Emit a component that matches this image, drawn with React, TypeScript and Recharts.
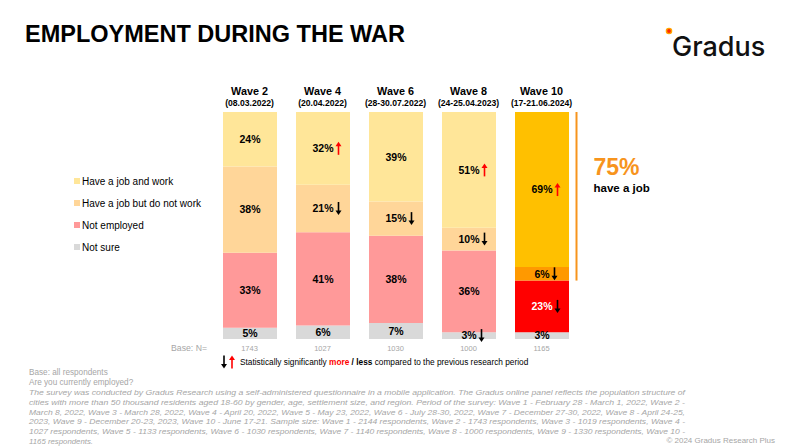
import React from "react";
import { BarChart, Bar, XAxis, YAxis, Cell, LabelList, Legend, ReferenceLine } from "recharts";

const waves = ["Wave 2", "Wave 4", "Wave 6", "Wave 8", "Wave 10"];
const dates = ["(08.03.2022)", "(20.04.2022)", "(28-30.07.2022)", "(24-25.04.2023)", "(17-21.06.2024)"];
const baseN = [1743, 1027, 1030, 1000, 1165];

const work = [24, 32, 39, 51, 69];
const notWork = [38, 21, 15, 10, 6];
const notEmployed = [33, 41, 38, 36, 23];
const notSure = [5, 6, 7, 3, 3];

// significance vs previous wave
const workSig = ["", "up", "", "up", "up"];
const notWorkSig = ["", "down", "down", "down", "down"];
const notEmployedSig = ["", "", "", "", "down"];
const notSureSig = ["", "", "", "down", ""];

const seriesNames = ["Have a job and work", "Have a job but do not work", "Not employed", "Not sure"];

const COLORS = {
  work: "#FFE699",
  notWork: "#FFD699",
  notEmployed: "#FF9999",
  notSure: "#D9D9D9",
};
const LAST = {
  work: "#FFC000",
  notWork: "#FF9900",
  notEmployed: "#FF0000",
  notSure: "#D9D9D9",
};

const FONT = "'Liberation Sans', Arial, sans-serif";
const GRAY = "#A6A6A6";

const data = waves.map((wave, i) => ({
  wave,
  n: baseN[i],
  work: work[i],
  notWork: notWork[i],
  notEmployed: notEmployed[i],
  notSure: notSure[i],
}));

const last = waves.length - 1;
const haveJob = work[last] + notWork[last];
const haveJobShare = haveJob / (haveJob + notEmployed[last] + notSure[last]);

function Arrow({ x, y, dir }: { x: number; y: number; dir: string }) {
  const color = dir === "up" ? "#FF0000" : "#000";
  const h = 6.5;
  if (dir === "up") {
    return (
      <g>
        <line x1={x} y1={y + h} x2={x} y2={y - h + 4} stroke={color} strokeWidth={1.6} />
        <path d={`M${x - 3},${y - h + 4.5} L${x},${y - h} L${x + 3},${y - h + 4.5} Z`} fill={color} />
      </g>
    );
  }
  return (
    <g>
      <line x1={x} y1={y - h} x2={x} y2={y + h - 4} stroke={color} strokeWidth={1.6} />
      <path d={`M${x - 3},${y + h - 4.5} L${x},${y + h} L${x + 3},${y + h - 4.5} Z`} fill={color} />
    </g>
  );
}

const makeLabel = (sig: string[], whiteAt = -1) => (props: any) => {
  const vb = props.viewBox && props.viewBox.width != null ? props.viewBox : props;
  const { x, y, width, height } = vb;
  const index = props.index;
  const cx = x + width / 2;
  const cy = y + height / 2;
  const text = `${props.value}%`;
  const tw = text.length === 2 ? 15 : 21;
  const s = sig[index];
  return (
    <g>
      <text
        x={cx}
        y={cy}
        dy={3.8}
        textAnchor="middle"
        fontFamily={FONT}
        fontSize={10.5}
        fontWeight={700}
        fill={index === whiteAt ? "#fff" : "#000"}
      >
        {text}
      </text>
      {s && <Arrow x={cx + tw / 2 + 5} y={cy} dir={s} />}
    </g>
  );
};

const WaveTick = (props: any) => {
  const { x, payload } = props;
  const i = waves.indexOf(payload.value);
  return (
    <g fontFamily={FONT} fontWeight={700} fill="#000" textAnchor="middle">
      <text x={x} y={95} fontSize={10.8}>{payload.value}</text>
      <text x={x} y={105.5} fontSize={8.6}>{dates[i]}</text>
    </g>
  );
};

const NTick = (props: any) => {
  const { x, payload } = props;
  return (
    <text x={x} y={351} textAnchor="middle" fontFamily={FONT} fontSize={7.5} fill={GRAY}>
      {payload.value}
    </text>
  );
};

const legendColors = [COLORS.work, COLORS.notWork, COLORS.notEmployed, COLORS.notSure];

const LegendBox = () => (
  <div style={{ fontFamily: FONT, fontSize: 10, color: "#000" }}>
    {seriesNames.map((name, i) => (
      <div key={name} style={{ display: "flex", alignItems: "center", height: 22 }}>
        <span style={{ width: 6, height: 6, background: legendColors[i], marginRight: 2 }} />
        <span>{name}</span>
      </div>
    ))}
  </div>
);

const Bracket = (props: any) => {
  const { x1, y1, y2 } = props;
  const x = x1 + 27 + 8;
  const top = Math.min(y1, y2);
  const bottom = Math.max(y1, y2);
  return (
    <g>
      <line x1={x} y1={top} x2={x} y2={bottom} stroke="#F7941D" strokeWidth={2} />
      <text x={x + 17} y={175} fontFamily={FONT} fontSize={23} fontWeight={700} fill="#F7941D">
        {haveJob}%
      </text>
      <text x={x + 17} y={192} fontFamily={FONT} fontSize={11.5} fontWeight={700} fill="#000">
        have a job
      </text>
    </g>
  );
};

const footLines = [
  "The survey was conducted by Gradus Research using a self-administered questionnaire in a mobile application. The Gradus online panel reflects the population structure of",
  "cities with more than 50 thousand residents aged 18-60 by gender, age, settlement size, and region. Period of the survey: Wave 1 - February 28 - March 1, 2022, Wave 2 -",
  "March 8, 2022, Wave 3 - March 28, 2022, Wave 4 - April 20, 2022, Wave 5 - May 23, 2022, Wave 6 - July 28-30, 2022, Wave 7 - December 27-30, 2022, Wave 8 - April 24-25,",
  "2023, Wave 9 - December 20-23, 2023, Wave 10 - June 17-21. Sample size: Wave 1 - 2144 respondents, Wave 2 - 1743 respondents, Wave 3 - 1019 respondents, Wave 4 -",
  "1027 respondents, Wave 5 - 1133 respondents, Wave 6 - 1030 respondents, Wave 7 - 1140 respondents, Wave 8 - 1000 respondents, Wave 9 - 1330 respondents, Wave 10 -",
  "1165 respondents.",
];

export default function App() {
  return (
    <div style={{ position: "absolute", left: 0, top: 0, width: 800, height: 448, background: "#fff" }}>
      <BarChart
        width={800}
        height={448}
        data={data}
        stackOffset="expand"
        margin={{ top: 82, right: 222, bottom: 89, left: 213 }}
      >
        <XAxis dataKey="wave" orientation="top" height={30} axisLine={false} tickLine={false} tick={<WaveTick />} interval={0} />
        <XAxis xAxisId="n" dataKey="n" orientation="bottom" height={20} axisLine={false} tickLine={false} tick={<NTick />} interval={0} />
        <YAxis hide domain={[0, 1]} />
        <Legend
          verticalAlign="middle"
          align="center"
          layout="horizontal"
          content={<LegendBox />}
          wrapperStyle={{ left: 74, top: 170, width: 160 }}
        />
        <Bar dataKey="notSure" name={seriesNames[3]} stackId="a" barSize={54} fill={COLORS.notSure} isAnimationActive={false}>
          {data.map((d, i) => (
            <Cell key={d.wave} fill={i === last ? LAST.notSure : COLORS.notSure} />
          ))}
          <LabelList dataKey="notSure" content={makeLabel(notSureSig)} />
        </Bar>
        <Bar dataKey="notEmployed" name={seriesNames[2]} stackId="a" barSize={54} fill={COLORS.notEmployed} isAnimationActive={false}>
          {data.map((d, i) => (
            <Cell key={d.wave} fill={i === last ? LAST.notEmployed : COLORS.notEmployed} />
          ))}
          <LabelList dataKey="notEmployed" content={makeLabel(notEmployedSig, last)} />
        </Bar>
        <Bar dataKey="notWork" name={seriesNames[1]} stackId="a" barSize={54} fill={COLORS.notWork} isAnimationActive={false}>
          {data.map((d, i) => (
            <Cell key={d.wave} fill={i === last ? LAST.notWork : COLORS.notWork} />
          ))}
          <LabelList dataKey="notWork" content={makeLabel(notWorkSig)} />
        </Bar>
        <Bar dataKey="work" name={seriesNames[0]} stackId="a" barSize={54} fill={COLORS.work} isAnimationActive={false}>
          {data.map((d, i) => (
            <Cell key={d.wave} fill={i === last ? LAST.work : COLORS.work} />
          ))}
          <LabelList dataKey="work" content={makeLabel(workSig)} />
        </Bar>
        <ReferenceLine
          segment={[
            { x: waves[last], y: 1 },
            { x: waves[last], y: 1 - haveJobShare },
          ]}
          shape={<Bracket />}
        />
      </BarChart>

      <svg
        width={800}
        height={448}
        style={{ position: "absolute", left: 0, top: 0, pointerEvents: "none" }}
        fontFamily={FONT}
      >
        <text x={25} y={42} fontSize={23.5} fontWeight={700} fill="#000">
          EMPLOYMENT DURING THE WAR
        </text>

        <circle cx={669} cy={31} r={2.6} fill="#FF2A00" stroke="#FFA500" strokeWidth={1.4} />
        <text x={672} y={56} fontFamily="Inter, 'Liberation Sans', sans-serif" fontSize={27} fontWeight={500} fill="#111">
          Gradus
        </text>

        <text x={171} y={351} fontSize={8.7} fill={GRAY}>Base: N=</text>

        <Arrow x={224} y={362} dir="down" />
        <Arrow x={232} y={362} dir="up" />
        <text x={240} y={365} fontSize={8.3} fill="#000">
          Statistically significantly{" "}
          <tspan fill="#FF0000" fontWeight={700}>more</tspan>
          <tspan fontWeight={700}> / less</tspan> compared to the previous research period
        </text>

        <text x={29} y={375} fontSize={8.2} fill={GRAY}>Base: all respondents</text>
        <text x={29} y={385} fontSize={8.2} fill={GRAY}>Are you currently employed?</text>
        {footLines.map((line, i) =>
          i < footLines.length - 1 ? (
            <text
              key={i}
              x={29}
              y={395 + i * 9.8}
              fontSize={7.8}
              fontStyle="italic"
              fill={GRAY}
              textLength={656}
              lengthAdjust="spacingAndGlyphs"
            >
              {line}
            </text>
          ) : (
            <text key={i} x={29} y={395 + i * 9.8} fontSize={7.8} fontStyle="italic" fill={GRAY}>
              {line}
            </text>
          )
        )}
        <text x={775} y={443} fontSize={8} fill={GRAY} textAnchor="end">
          © 2024 Gradus Research Plus
        </text>
      </svg>
    </div>
  );
}
